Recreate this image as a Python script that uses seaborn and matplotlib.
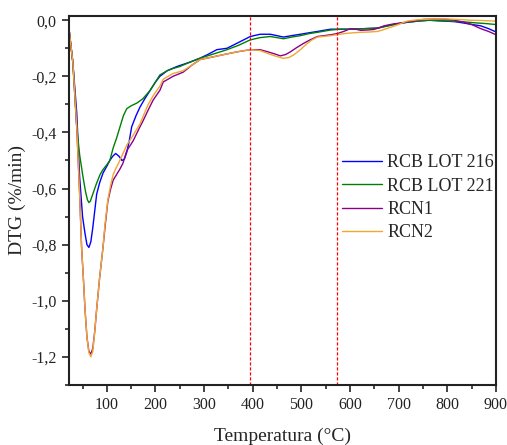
import numpy as np
import pandas as pd
import matplotlib
matplotlib.use('Agg')
import matplotlib.pyplot as plt
import seaborn as sns
from matplotlib.ticker import MultipleLocator, FuncFormatter

# DTG curves (temperature in C, DTG in %/min)
t_216 = [22, 30, 38, 44, 50, 55, 59, 63, 67, 71, 75, 79, 85, 92, 100, 106, 112, 118, 125, 131,
         136, 141, 146, 151, 160, 168, 178, 189, 200, 209, 224, 244, 270, 292, 310, 326, 347, 370, 395, 415,
         436, 450, 463, 480, 498, 515, 533, 560, 580, 601, 630, 657, 675, 690, 715, 739, 765, 793, 815, 834,
         850, 869, 885, 898]
dtg_216 = [-0.03, -0.15, -0.33, -0.56, -0.70, -0.76, -0.80, -0.81, -0.79, -0.74, -0.68, -0.62, -0.58, -0.545, -0.52, -0.50, -0.485, -0.475, -0.485, -0.50,
           -0.495, -0.47, -0.43, -0.38, -0.34, -0.31, -0.28, -0.25, -0.22, -0.20, -0.18, -0.165, -0.15, -0.135, -0.12, -0.105, -0.10, -0.08, -0.058, -0.05,
           -0.05, -0.055, -0.06, -0.055, -0.05, -0.045, -0.04, -0.032, -0.032, -0.032, -0.03, -0.028, -0.02, -0.015, -0.008, -0.003, 0.0, -0.003, -0.005, -0.01,
           -0.015, -0.02, -0.03, -0.04]

t_221 = [22, 30, 38, 44, 51, 56, 60, 63, 66, 71, 78, 86, 93, 100, 106, 113, 120, 127, 134, 141,
         150, 162, 174, 189, 200, 209, 224, 236, 250, 270, 292, 320, 347, 370, 395, 415, 436, 450, 463, 480,
         498, 515, 533, 560, 580, 601, 630, 657, 680, 704, 730, 760, 785, 807, 835, 863, 880, 898]
dtg_221 = [-0.03, -0.15, -0.38, -0.48, -0.56, -0.61, -0.64, -0.65, -0.645, -0.62, -0.585, -0.55, -0.53, -0.515, -0.50, -0.455, -0.42, -0.38, -0.34, -0.315,
           -0.305, -0.295, -0.28, -0.25, -0.22, -0.195, -0.18, -0.172, -0.165, -0.15, -0.135, -0.12, -0.105, -0.09, -0.07, -0.062, -0.058, -0.062, -0.066, -0.06,
           -0.055, -0.048, -0.043, -0.035, -0.032, -0.032, -0.03, -0.028, -0.02, -0.01, -0.005, 0.0, -0.002, -0.003, -0.006, -0.01, -0.012, -0.015]

t_rcn1 = [22, 30, 38, 44, 48, 52, 55, 59, 63, 67, 71, 75, 79, 85, 92, 96, 102, 108, 113, 120,
          127, 133, 141, 154, 168, 174, 185, 195, 209, 216, 236, 257, 275, 292, 320, 347, 370, 395, 415, 430,
          445, 457, 468, 478, 490, 504, 518, 533, 560, 575, 587, 601, 612, 622, 635, 649, 660, 670, 690, 704,
          730, 752, 775, 793, 815, 834, 850, 869, 885, 898]
dtg_rcn1 = [-0.03, -0.15, -0.38, -0.62, -0.81, -0.93, -1.03, -1.13, -1.18, -1.19, -1.17, -1.11, -1.03, -0.92, -0.81, -0.74, -0.645, -0.60, -0.57, -0.55,
            -0.53, -0.51, -0.465, -0.43, -0.38, -0.36, -0.32, -0.285, -0.25, -0.22, -0.20, -0.185, -0.16, -0.14, -0.13, -0.12, -0.112, -0.105, -0.105, -0.112,
            -0.12, -0.127, -0.122, -0.112, -0.098, -0.083, -0.07, -0.058, -0.052, -0.047, -0.04, -0.03, -0.032, -0.036, -0.035, -0.033, -0.027, -0.02, -0.013, -0.01,
            -0.003, 0.003, 0.004, 0.004, 0.0, -0.007, -0.015, -0.03, -0.04, -0.05]

t_rcn2 = [22, 30, 38, 44, 48, 52, 55, 59, 63, 67, 71, 75, 79, 85, 92, 96, 102, 108, 113, 118,
          124, 133, 141, 154, 168, 174, 185, 195, 209, 216, 236, 257, 275, 292, 320, 347, 370, 395, 415, 430,
          447, 463, 474, 484, 498, 512, 522, 533, 560, 587, 605, 622, 640, 657, 670, 684, 700, 718, 740, 766,
          790, 807, 830, 848, 870, 898]
dtg_rcn2 = [-0.03, -0.15, -0.38, -0.62, -0.81, -0.93, -1.03, -1.13, -1.185, -1.20, -1.18, -1.11, -1.03, -0.92, -0.81, -0.73, -0.64, -0.585, -0.55, -0.53,
            -0.51, -0.475, -0.445, -0.41, -0.37, -0.345, -0.30, -0.27, -0.235, -0.21, -0.19, -0.18, -0.16, -0.14, -0.13, -0.12, -0.112, -0.105, -0.108, -0.118,
            -0.128, -0.136, -0.133, -0.124, -0.105, -0.083, -0.07, -0.06, -0.055, -0.048, -0.045, -0.043, -0.042, -0.04, -0.033, -0.025, -0.015, -0.003, 0.002, 0.004,
            0.005, 0.004, 0.002, 0.0, -0.001, -0.003]

sample_names = ['RCB LOT 216', 'RCB LOT 221', 'RCN1', 'RCN2']
colors = ['#0000FF', '#008000', '#8B008B', '#F0A830']
vlines = [395, 574]

frames = []
for name, t, d in zip(sample_names, [t_216, t_221, t_rcn1, t_rcn2], [dtg_216, dtg_221, dtg_rcn1, dtg_rcn2]):
    frames.append(pd.DataFrame({'T': t, 'DTG': d, 'sample': name}))
df = pd.concat(frames, ignore_index=True)

sns.set_theme(style='ticks')
plt.rcParams['font.family'] = ['Liberation Serif', 'DejaVu Serif']

fig = plt.figure(figsize=(5.07, 4.45), dpi=100)
ax = fig.add_axes([0.136, 0.135, 0.842, 0.829])

sns.lineplot(data=df, x='T', y='DTG', hue='sample', hue_order=sample_names,
             palette=colors, sort=False, estimator=None, linewidth=1.0, ax=ax)

for v in vlines:
    ax.axvline(v, color='red', linestyle=(0, (2.5, 1.5)), linewidth=0.9)

ax.set_xlim(22, 900)
ax.set_ylim(-1.30, 0.015)
ax.xaxis.set_major_locator(MultipleLocator(100))
ax.xaxis.set_minor_locator(MultipleLocator(50))
ax.yaxis.set_major_locator(MultipleLocator(0.2))
ax.yaxis.set_minor_locator(MultipleLocator(0.1))
ax.yaxis.set_major_formatter(FuncFormatter(lambda v, p: f'{v:.1f}'.replace('.', ',').replace('−', '-')))
ax.xaxis.set_major_formatter(FuncFormatter(lambda v, p: f'{v:.0f}'))

ax.tick_params(which='major', direction='out', length=5, width=1.2, labelsize=11.5, colors='#222222', pad=4)
ax.tick_params(which='minor', direction='out', length=3, width=1.2)
for s in ax.spines.values():
    s.set_linewidth(1.5)
    s.set_color('#222222')

ax.set_xlabel('Temperatura (°C)', fontsize=14, labelpad=10)
ax.set_ylabel('DTG (%/min)', fontsize=14, labelpad=4)

handles, labels = ax.get_legend_handles_labels()
ax.legend(handles, labels, loc='upper left', bbox_to_anchor=(0.623, 0.645), frameon=False,
          fontsize=13, handlelength=2.2, handletextpad=0.3, labelspacing=0.35, borderaxespad=0)

fig.savefig('out.png', dpi=100)
